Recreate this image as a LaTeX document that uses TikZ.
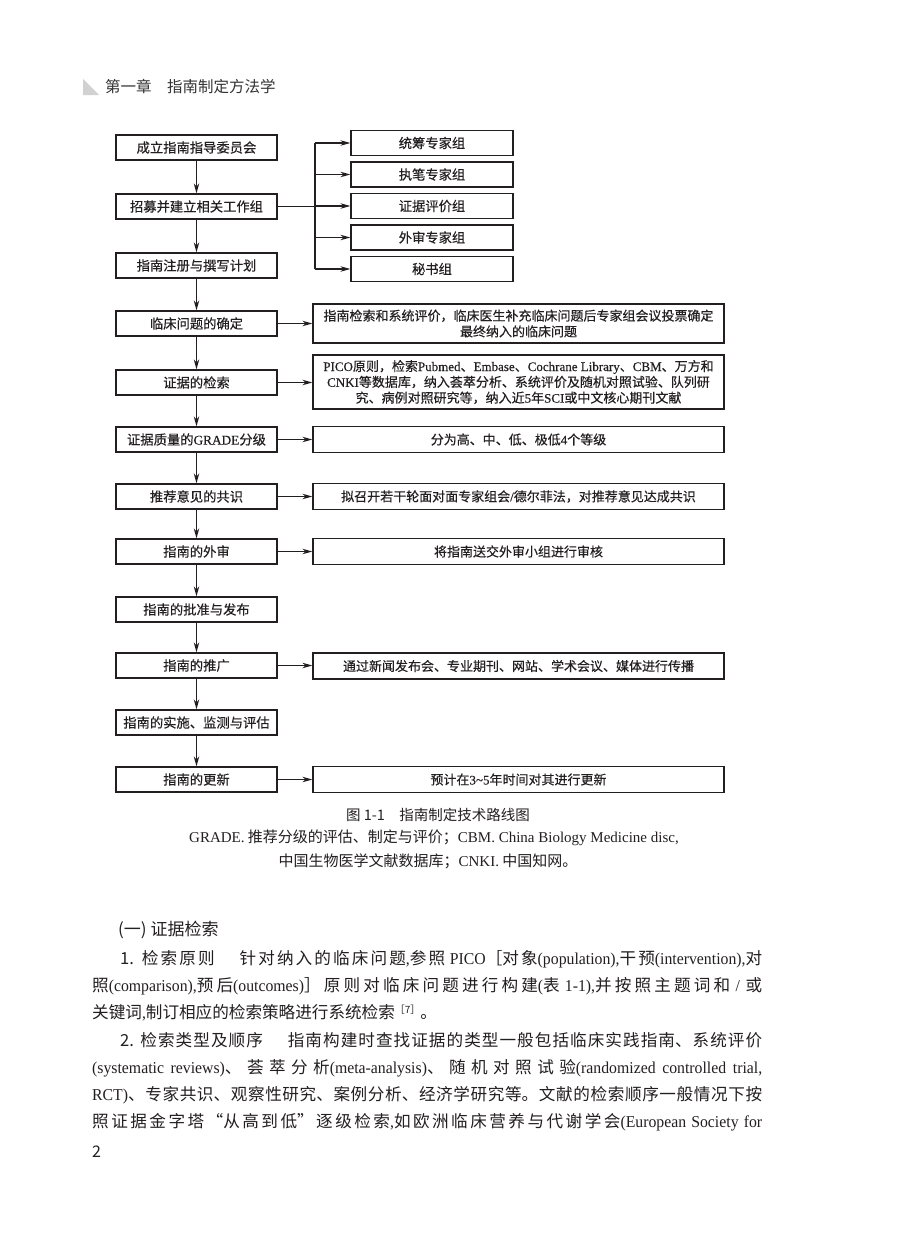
\documentclass[tikz,border=0pt]{standalone}
\usepackage{fontspec}
\setmainfont{Noto Sans CJK SC}
\newfontfamily\boxf[FakeBold=0.35]{Noto Sans CJK SC}
\newfontfamily\latf{Liberation Serif}
\newfontfamily\latbx[FakeBold=0.35]{Liberation Serif}
\newfontfamily\latc[FakeStretch=0.95]{Liberation Serif}
\usetikzlibrary{arrows.meta}
\definecolor{ink}{RGB}{35,31,32}
\newcommand\engb[1]{{\latbx #1}}
\newcommand\engn[1]{{\latf #1}}
\newcommand\engc[1]{{\latc #1}}
\newcommand\jline[2]{\parbox[b]{#1}{\XeTeXlinebreaklocale "zh"\XeTeXlinebreakskip=0pt plus 4pt\relax\tolerance=10000\hbadness=10000\emergencystretch=20pt\parindent=0pt\parfillskip=0pt\relax #2\par}}
\begin{document}
\begin{tikzpicture}[x=1pt,y=-1pt,
  every node/.style={inner sep=0pt, text=ink},
  lbox/.style={draw=ink, line width=1.3pt, minimum width=161pt, minimum height=25pt, font=\boxf\fontsize{13.3}{15}\selectfont},
  sbox/.style={draw=ink, line width=1.3pt, minimum width=162pt, minimum height=25pt, font=\boxf\fontsize{13.3}{15}\selectfont},
  rbox/.style={draw=ink, line width=1.3pt, minimum width=411pt, minimum height=26pt, align=center, font=\boxf\fontsize{13}{15.8}\selectfont},
  arr/.style={draw=ink, line width=1.1pt, -{Stealth[length=10pt,width=5.5pt]}},
  conn/.style={draw=ink, line width=1.1pt},
  body/.style={anchor=base west, font=\fontsize{16.6}{20}\selectfont}
]
\useasboundingbox[fill=white] (0,0) rectangle (900,1234);

% header
\fill[black!18] (83,79) -- (83,95) -- (99,95) -- cycle;
\node[anchor=west, font=\fontsize{15.5}{16}\selectfont, text=black!80] (hdr) at (105,87) {第一章\hspace{1em}指南制定方法学};

% left column
\node[lbox] (n1) at (196.5,147.5) {成立指南指导委员会};
\node[lbox] (n2) at (196.5,206.5) {招募并建立相关工作组};
\node[lbox] (n3) at (196.5,265.5) {指南注册与撰写计划};
\node[lbox] (n4) at (196.5,323.5) {临床问题的确定};
\node[lbox] (n5) at (196.5,382.5) {证据的检索};
\node[lbox] (n6) at (196.5,439.5) {证据质量的\engb{GRADE}分级};
\node[lbox] (n7) at (196.5,496.5) {推荐意见的共识};
\node[lbox] (n8) at (196.5,551.5) {指南的外审};
\node[lbox] (n9) at (196.5,609.5) {指南的批准与发布};
\node[lbox] (n10) at (196.5,665.5) {指南的推广};
\node[lbox] (n11) at (196.5,722.5) {指南的实施、监测与评估};
\node[lbox] (n12) at (196.5,779.5) {指南的更新};

\foreach \a/\b in {n1/n2,n2/n3,n3/n4,n4/n5,n5/n6,n6/n7,n7/n8,n8/n9,n9/n10,n10/n11,n11/n12}
  \draw[arr] (\a) -- (\b);

% working groups
\node[sbox] (s1) at (432,143) {统筹专家组};
\node[sbox] (s2) at (432,174.5) {执笔专家组};
\node[sbox] (s3) at (432,206) {证据评价组};
\node[sbox] (s4) at (432,237.5) {外审专家组};
\node[sbox] (s5) at (432,269) {秘书组};
\coordinate (br) at (315,206.5);
\draw[conn] (n2.east) -- (br);
\draw[conn] (br |- s1.west) -- (br |- s5.west);
\foreach \s in {s1,s2,s3,s4,s5}
  \draw[arr] (br |- \s.west) -- (\s.west);

% right boxes
\node[rbox, minimum height=39pt] (r4) at (518.5,323.5) {指南检索和系统评价，临床医生补充临床问题后专家组会议投票确定\\最终纳入的临床问题};
\node[rbox, minimum height=54pt] (r5) at (518.5,382) {\engb{PICO}原则，检索\engb{Pubmed}、\engb{Embase}、\engb{Cochrane Library}、\engb{CBM}、万方和\\\engb{CNKI}等数据库，纳入荟萃分析、系统评价及随机对照试验、队列研\\究、病例对照研究等，纳入近\engb{5}年\engb{SCI}或中文核心期刊文献};
\node[rbox] (r6) at (518.5,439.5) {分为高、中、低、极低\engb{4}个等级};
\node[rbox] (r7) at (518.5,496.5) {拟召开若干轮面对面专家组会\engb{/}德尔菲法，对推荐意见达成共识};
\node[rbox] (r8) at (518.5,551.5) {将指南送交外审小组进行审核};
\node[rbox] (r10) at (518.5,666) {通过新闻发布会、专业期刊、网站、学术会议、媒体进行传播};
\node[rbox] (r12) at (518.5,779.5) {预计在\engb{3\textasciitilde5}年时间对其进行更新};

\foreach \a/\b in {n4/r4,n5/r5,n6/r6,n7/r7,n8/r8,n10/r10,n12/r12}
  \draw[arr] (\a.east) -- (\a.east -| \b.west);

% caption
\node[font=\fontsize{14.5}{16}\selectfont] (cap1) at (438,815) {图 1-1\hspace{1em}指南制定技术路线图};
\node[font=\fontsize{15}{16}\selectfont] (cap2) at (434,838) {\engn{GRADE.} 推荐分级的评估、制定与评价；\engn{CBM. China Biology Medicine disc,}};
\node[font=\fontsize{15}{16}\selectfont] (cap3) at (428,861) {中国生物医学文献数据库；\engn{CNKI.} 中国知网。};

% body text
\node[anchor=west, font=\fontsize{17}{20}\selectfont] (h1) at (118,930) {(一) 证据检索};
\node[body] (l1) at (120,964) {\jline{642pt}{1. 检索原则\hspace{1.5em}针对纳入的临床问题\engc{,}参照 \engc{PICO}［对象\engc{(population),}干预\engc{(intervention),}对}};
\node[body] (l2) at (92,991) {\jline{670pt}{照\engc{(comparison),}预后\engc{(outcomes)}］原则对临床问题进行构建\engc{(}表 \engc{1-1),}并按照主题词和\engc{ / }或}};
\node[body] (l3) at (92,1018) {关键词\engc{,}制订相应的检索策略进行系统检索\raisebox{5pt}{\fontsize{10}{10}\selectfont［7］}。};
\node[body] (l4) at (120,1046) {\jline{642pt}{2. 检索类型及顺序\hspace{1.5em}指南构建时查找证据的类型一般包括临床实践指南、系统评价}};
\node[body] (l5) at (92,1073) {\jline{670pt}{\engc{(systematic reviews)}、荟萃分析\engc{(meta-analysis)}、随机对照试验\engc{(randomized controlled trial,}}};
\node[body] (l6) at (92,1100) {\jline{670pt}{\engc{RCT)}、专家共识、观察性研究、案例分析、经济学研究等。文献的检索顺序一般情况下按}};
\node[body] (l7) at (92,1127) {\jline{670pt}{照证据金字塔“从高到低”逐级检索\engc{,}如欧洲临床营养与代谢学会\engc{(European Society for}}};
\node[anchor=west, font=\fontsize{16}{18}\selectfont] (pg) at (92,1152) {2};
\end{tikzpicture}
\end{document}
